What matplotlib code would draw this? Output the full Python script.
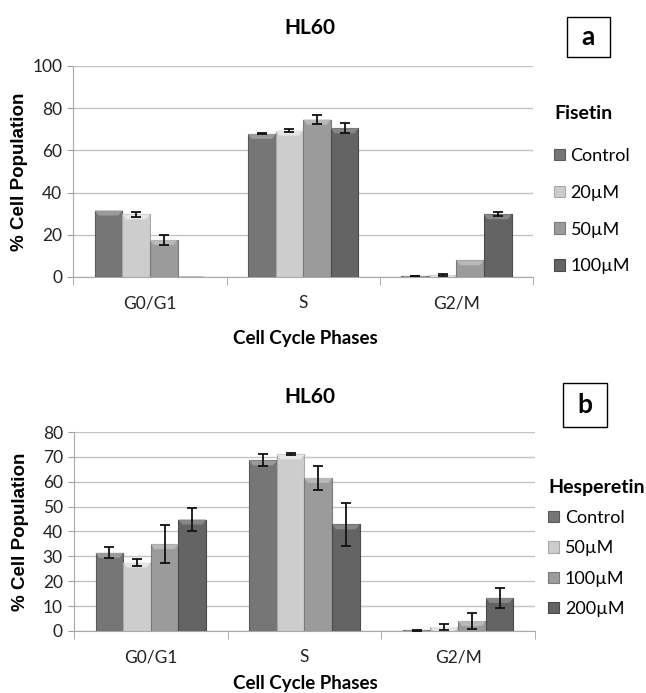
import numpy as np
import matplotlib.pyplot as plt
from matplotlib.patches import Polygon, Rectangle

# ---- data ----
phases = ["G0/G1", "S", "G2/M"]

fis_labels = ["Control", "20µM", "50µM", "100µM"]
fis_vals = [[31.5, 67.8, 0.5],
            [29.7, 69.4, 0.8],
            [17.5, 74.6, 7.9],
            [0.2, 70.5, 29.7]]
fis_err = [[0.0, 0.2, 0.2],
           [1.3, 0.6, 0.4],
           [2.2, 2.1, 0.0],
           [0.0, 2.3, 1.0]]

hes_labels = ["Control", "50µM", "100µM", "200µM"]
hes_vals = [[31.4, 68.6, 0.3],
            [27.5, 71.0, 1.6],
            [34.9, 61.5, 4.0],
            [44.8, 42.9, 13.3]]
hes_err = [[2.2, 2.4, 0.2],
           [1.4, 0.4, 1.2],
           [7.7, 4.8, 3.1],
           [4.7, 8.6, 4.1]]

colors = ["#767676", "#cdcdcd", "#9b9b9b", "#646464"]
tops = ["#9a9a9a", "#e6e6e6", "#b8b8b8", "#878787"]
edges = ["#5a5a5a", "#a8a8a8", "#7a7a7a", "#4a4a4a"]

NARROW = ["Lato", "DejaVu Sans"]
BOLD = ["Lato", "DejaVu Sans"]

fig = plt.figure(figsize=(6.46, 6.93), dpi=100)


def panel(rect, vals, err, labels, legend_title, ymax, ystep, letter, box,
          title_y, xlabel_y, leg_anchor, title_gap, spacing):
    ax = fig.add_axes(rect)
    x = np.arange(len(phases))
    w = 0.18
    ax.set_xlim(-0.5, 2.5)
    ax.set_ylim(0, ymax)
    # pixel size of a data unit, for the bevel on top of bars
    h_px = rect[3] * fig.get_figheight() * fig.dpi
    bevel = 5.0 / (h_px / ymax)
    handles = []
    for i, (v, e) in enumerate(zip(vals, err)):
        xs = x + (i - 1.5) * w
        b = ax.bar(xs, v, width=w, color=colors[i], edgecolor=edges[i],
                   linewidth=0.8, zorder=3, label=labels[i])
        handles.append(b)
        for xi, vi in zip(xs, v):
            bh = min(bevel, vi)
            ax.add_patch(Polygon([(xi - w / 2, vi), (xi + w / 2, vi),
                                  (xi + w / 2 - 0.025, vi - bh),
                                  (xi - w / 2 + 0.025, vi - bh)],
                                 closed=True, facecolor=tops[i],
                                 edgecolor="none", zorder=4))
        ee = np.array(e)
        m = ee > 0
        ax.errorbar(xs[m], np.array(v)[m], yerr=ee[m], fmt="none",
                    ecolor="#111111", elinewidth=1.3, capsize=3.5,
                    capthick=1.3, zorder=5)

    ax.set_yticks(np.arange(0, ymax + 1, ystep))
    ax.set_xticks(x)
    ax.set_xticklabels(phases)
    ax.set_xticks(np.arange(-0.5, 2.6, 1), minor=True)
    ax.tick_params(axis="x", which="major", length=0, pad=13)
    ax.tick_params(axis="x", which="minor", length=6, color="#a0a0a0",
                   direction="out")
    ax.tick_params(axis="y", length=4, color="#a0a0a0", pad=4)
    for lab in ax.get_xticklabels() + ax.get_yticklabels():
        lab.set_family(NARROW)
        lab.set_fontsize(12.5)
        lab.set_color("#222222")
    ax.grid(axis="y", color="#c4c4c4", linewidth=1.0, zorder=0)
    ax.set_axisbelow(True)
    for s in ["top", "right"]:
        ax.spines[s].set_visible(False)
    ax.spines["left"].set_color("#a8a8a8")
    ax.spines["bottom"].set_color("#a8a8a8")

    ax.set_ylabel("% Cell Population", family=["Liberation Sans", "DejaVu Sans"],
                  fontweight="bold", fontsize=13.5)
    ax.yaxis.set_label_coords(-0.098, 0.5)
    fig.text(0.48, title_y, "HL60", ha="center", va="center",
             family=BOLD, fontweight="bold", fontsize=15)
    fig.text(0.472, xlabel_y, "Cell Cycle Phases", ha="center", va="center",
             family=BOLD, fontweight="bold", fontsize=13.5)

    fig.patches.append(Rectangle((box[0], box[1]), box[2], box[3],
                                 transform=fig.transFigure, fill=False,
                                 edgecolor="black", linewidth=1.0))
    fig.text(box[0] + box[2] / 2, box[1] + box[3] / 2, letter, ha="center",
             va="center", family=BOLD, fontweight="bold", fontsize=19)

    leg = ax.legend(handles=handles, title=legend_title, frameon=False,
                    loc="upper left", bbox_to_anchor=leg_anchor,
                    bbox_transform=fig.transFigure, handlelength=0.6,
                    handleheight=0.6, handletextpad=0.3,
                    labelspacing=spacing, borderpad=0, borderaxespad=0,
                    prop={"family": NARROW, "size": 13},
                    title_fontproperties={"family": BOLD, "weight": "bold",
                                          "size": 14})
    leg._legend_box.align = "left"
    leg._legend_box.sep = title_gap
    return ax


panel([0.1135, 0.6003, 0.7115, 0.3045], fis_vals, fis_err, fis_labels,
      "Fisetin", 100, 20, "a", (0.8777, 0.9177, 0.0666, 0.0577),
      0.959, 0.512, (0.858, 0.849), 19, 1.15)

panel([0.1146, 0.0895, 0.7134, 0.2871], hes_vals, hes_err, hes_labels,
      "Hesperetin", 80, 10, "b", (0.8715, 0.3838, 0.0681, 0.0635),
      0.427, 0.014, (0.849, 0.309), 10, 0.8)

fig.savefig("out.png", dpi=100)
